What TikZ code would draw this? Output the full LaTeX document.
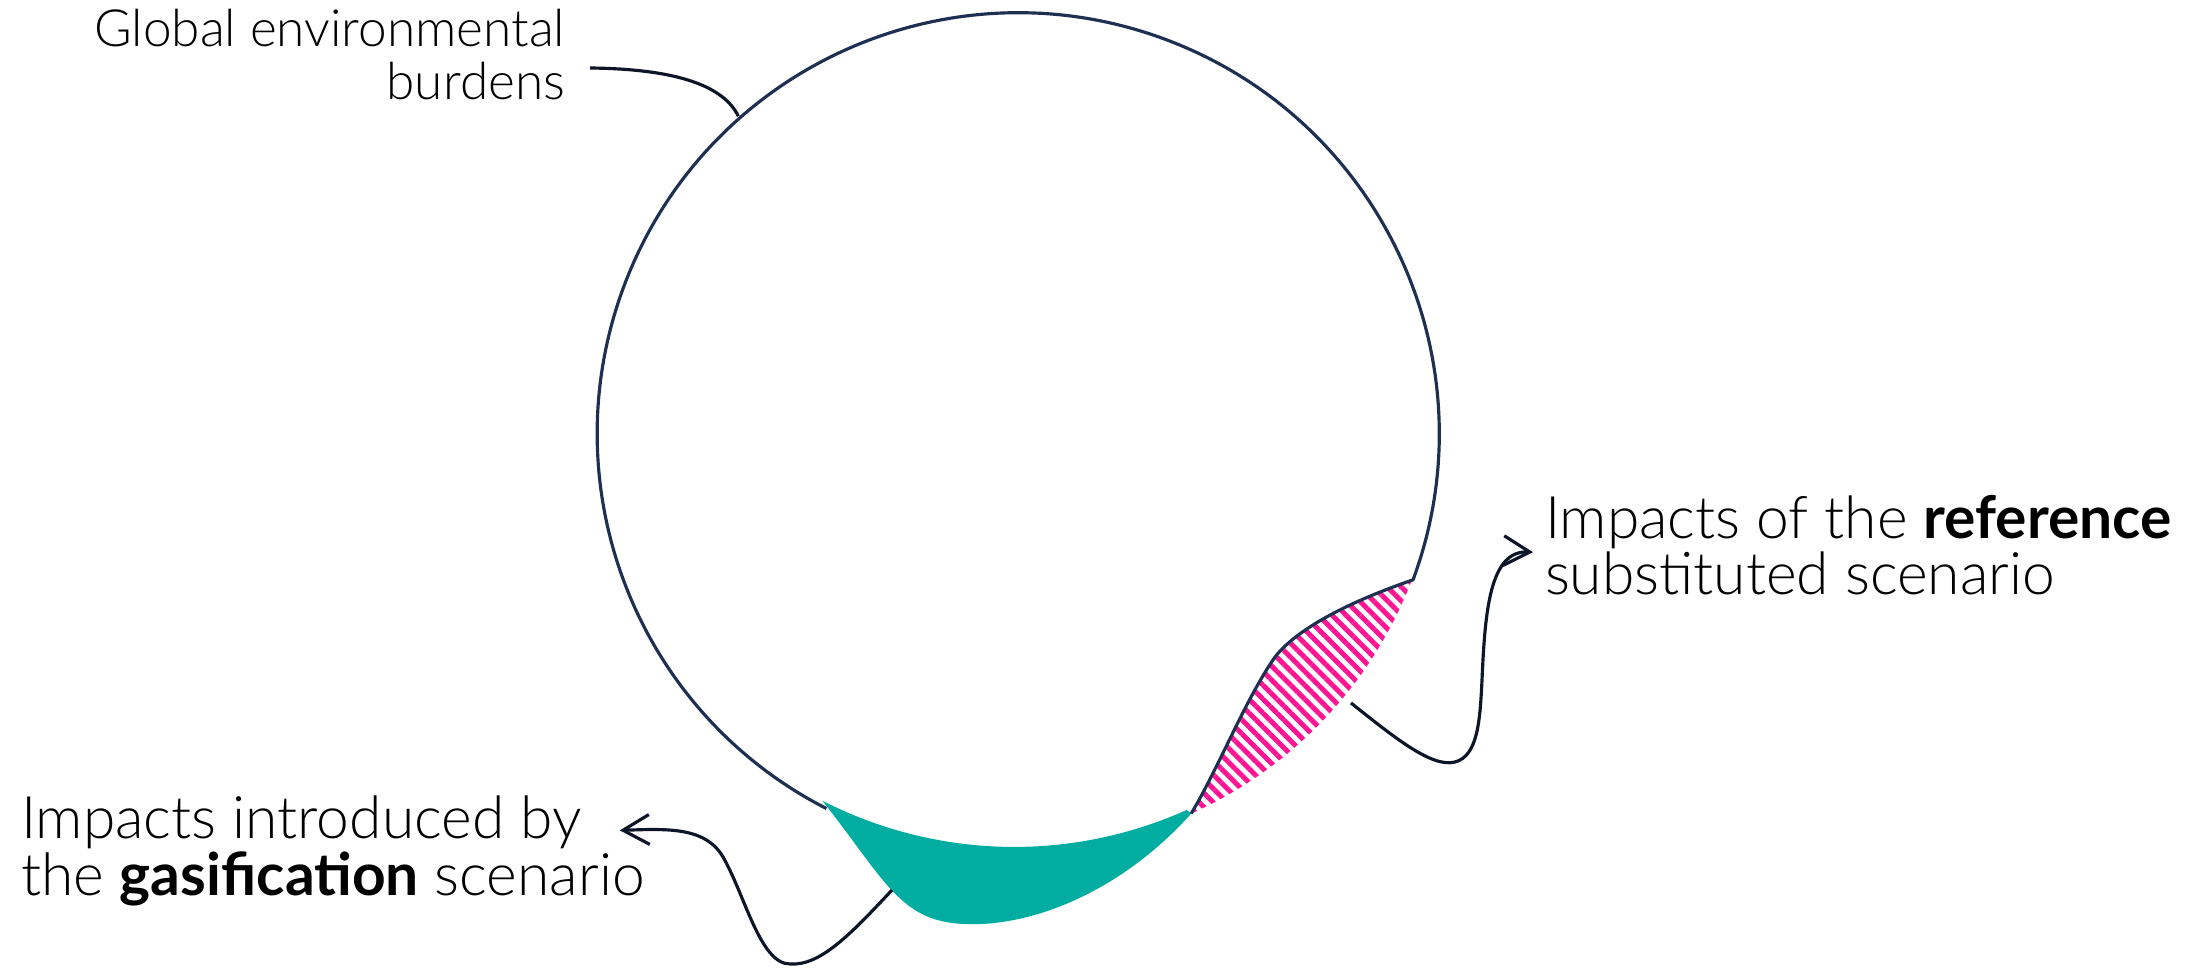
\documentclass[tikz,border=0pt]{standalone}
\usepackage{fontspec}
\IfFontExistsTF{Lato Light}{\setmainfont{Lato Light}[BoldFont={Lato Bold}]}{\setmainfont{Lato}}
\usepackage{xcolor}
\usepackage{tikz}
\usetikzlibrary{positioning,arrows.meta,patterns.meta}
\definecolor{rimblue}{RGB}{30,48,82}
\definecolor{inkblue}{RGB}{12,22,40}
\definecolor{gasteal}{RGB}{0,173,160}
\definecolor{refpink}{RGB}{255,20,147}

\begin{document}
\begin{tikzpicture}[every node/.style={font=\fontsize{16.7}{16.2}\selectfont, inner sep=0pt, outer sep=0pt}]
  \tikzstyle{rim}=[draw=rimblue, line width=0.9pt, line join=round]
  \tikzstyle{lead}=[draw=inkblue, line width=0.9pt]
  \tikzstyle{barb}=[-{Straight Barb[length=7.5pt, width=8.5pt]}]
  \useasboundingbox (0,0) rectangle (22,9.67);
  \node[circle, minimum size=8.42cm] (world) at (10.20,5.38) {};
  \fill[gasteal] (world.294.2) .. controls (11.20,0.74) and (10.30,0.40) .. (9.65,0.43)
    .. controls (9.00,0.45) and (8.85,0.87) .. (world.242.9)
    arc[start angle=242.9, end angle=294.2, radius=4.21] -- cycle;
  \fill[pattern={Lines[angle=-45, distance=2.8pt, line width=1.4pt]}, pattern color=refpink]
    (world.339.7) .. controls (13.60,3.69) and (13.00,3.42) .. (12.75,3.10)
    .. controls (12.45,2.67) and (12.20,2.02) .. (world.294.2)
    arc[start angle=-65.8, end angle=-20.3, radius=4.21] -- cycle;
  \draw[rim] (world.294.2) .. controls (12.20,2.02) and (12.45,2.67) .. (12.75,3.10)
    .. controls (13.00,3.42) and (13.60,3.69) .. (world.339.7)
    arc[start angle=-20.3, end angle=242.9, radius=4.21];
  \coordinate (gaspt) at (8.92,0.77);
  \coordinate (refpt) at (13.51,2.64);
  \node[font=\fontsize{14.6}{15.1}\selectfont, align=right, anchor=base east] (globe) at (5.65,8.67) {Global environmental\\burdens};
  \node[align=left, anchor=base west] (gasif) at (0.21,0.72) {Impacts introduced by\\the \textbf{gasification} scenario};
  \node[align=left, anchor=base west] (refsub) at (15.45,3.72) {Impacts of the \textbf{reference}\\substituted scenario};
  \draw[lead] ([xshift=0.25cm, yshift=-0.13cm]globe.east) .. controls (6.80,8.98) and (7.24,8.80) .. (world.132.8);
  \draw[lead, barb] (gaspt) .. controls (8.50,0.32) and (8.20,0.01) .. (7.90,0.03)
    .. controls (7.60,0.03) and (7.45,0.72) .. (7.23,1.10)
    .. controls (7.05,1.41) and (6.65,1.38) .. ([xshift=-0.25cm, yshift=-0.35cm]gasif.north east);
  \draw[lead, barb] (refpt) .. controls (13.95,2.29) and (14.32,1.99) .. (14.55,2.05)
    .. controls (14.78,2.11) and (14.80,2.47) .. (14.82,2.87)
    .. controls (14.85,3.57) and (14.90,4.17) .. ([xshift=-0.12cm, yshift=-0.07cm]refsub.west);
\end{tikzpicture}
\end{document}
